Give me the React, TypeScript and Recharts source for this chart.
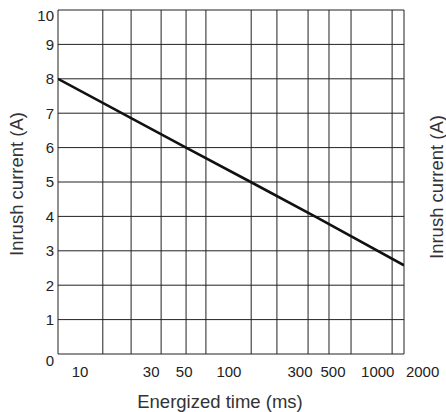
import React from "react";
import {
  LineChart,
  Line,
  XAxis,
  YAxis,
  ReferenceLine,
} from "recharts";

const timeMs = [7.1, 50, 140, 400, 1500];
const currentA = [8.0, 6.03, 5.0, 3.94, 2.58];

const xTicks = [10, 30, 50, 100, 300, 500, 1000, 2000];
const yTicks = [0, 1, 2, 3, 4, 5, 6, 7, 8, 9, 10];
const xGrid = [14.2, 22, 35, 51.5, 70, 141, 210, 340, 470, 661, 1248, 1500];

const data = timeMs.map((t, i) => ({ t, a: currentA[i] }));

const FONT = "'Liberation Sans', Arial, sans-serif";

const YTick = (props: any) => {
  const { x, y, payload } = props;
  let dy = 5.4;
  if (payload.value === 10) dy = 10.5;
  if (payload.value === 0) dy = 12;
  return (
    <text x={x} y={y + dy} textAnchor="end" fontSize={15} fill="#222" fontFamily={FONT}>
      {payload.value}
    </text>
  );
};

const XTick = (props: any) => {
  const { x, y, payload } = props;
  return (
    <text x={x} y={y + 21} textAnchor="middle" fontSize={15} fill="#222" fontFamily={FONT}>
      {payload.value}
    </text>
  );
};

export default function App() {
  return (
    <div style={{ position: "absolute", left: 0, top: 0, background: "#fff" }}>
      <LineChart
        width={446}
        height={412}
        data={data}
        margin={{ top: 10, right: 0, bottom: 28, left: 8 }}
      >
        <XAxis
          dataKey="t"
          type="number"
          scale="log"
          domain={[7.1, 1500]}
          allowDataOverflow
          ticks={xTicks}
          interval={0}
          tick={<XTick />}
          tickLine={false}
          tickSize={0}
          height={30}
          axisLine={{ stroke: "#222", strokeWidth: 1 }}
          label={{
            position: "bottom",
            content: () => (
              <text
                x={220}
                y={408}
                textAnchor="middle"
                fontSize={18.5}
                fill="#333"
                fontFamily={FONT}
              >
                Energized time (ms)
              </text>
            ),
          }}
        />
        <YAxis
          type="number"
          domain={[0, 10]}
          ticks={yTicks}
          interval={0}
          tick={<YTick />}
          tickLine={false}
          tickSize={0}
          tickMargin={4}
          width={50}
          axisLine={{ stroke: "#222", strokeWidth: 1 }}
          label={{
            position: "left",
            content: () => (
              <text
                transform="translate(23,184) rotate(-90)"
                textAnchor="middle"
                fontSize={18.5}
                fill="#333"
                fontFamily={FONT}
              >
                Inrush current  (A)
              </text>
            ),
          }}
        />
        <YAxis
          yAxisId="r"
          orientation="right"
          type="number"
          domain={[0, 10]}
          tick={false}
          tickLine={false}
          axisLine={false}
          width={42}
          label={{
            position: "right",
            content: () => (
              <text
                transform="translate(443,187) rotate(-90)"
                textAnchor="middle"
                fontSize={18.5}
                fill="#333"
                fontFamily={FONT}
              >
                Inrush current  (A)
              </text>
            ),
          }}
        />
        {yTicks.slice(1).map((v) => (
          <ReferenceLine key={"h" + v} y={v} stroke="#222" strokeWidth={1} />
        ))}
        {xGrid.map((v) => (
          <ReferenceLine key={"v" + v} x={v} stroke="#222" strokeWidth={1} />
        ))}
        <Line
          dataKey="a"
          stroke="#111"
          strokeWidth={2.6}
          dot={false}
          isAnimationActive={false}
        />
      </LineChart>
    </div>
  );
}
